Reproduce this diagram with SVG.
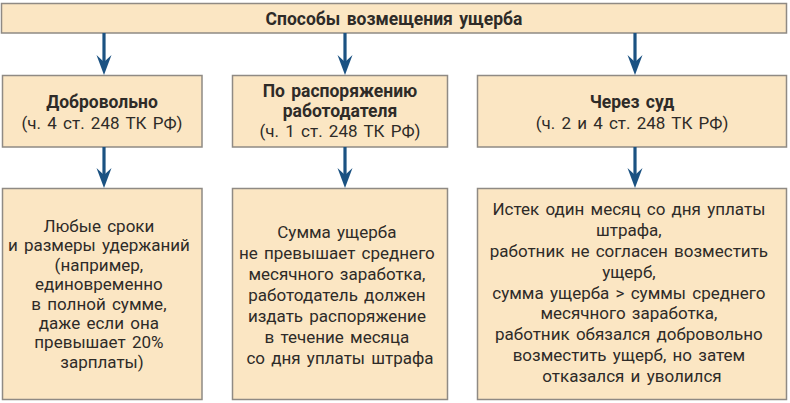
<svg xmlns="http://www.w3.org/2000/svg" width="790" height="403" viewBox="0 0 790 403">
<defs>
<style>
.box{fill:#fbe6c3;stroke:#8f8a84;stroke-width:1.5}
.t{font-family:Roboto,"Liberation Sans",sans-serif;fill:#2e2b28;text-anchor:middle}
.b{font-weight:bold;font-size:17.5px;word-spacing:2px}
.r{font-size:17px;word-spacing:2px}
.body{font-size:17px;word-spacing:2px}
.conn line{stroke:#1b5282;stroke-width:3.2}
.conn path{fill:#1b5282}
</style>
</defs>
<rect width="790" height="403" fill="#ffffff"/>
<g id="top">
<rect class="box" x="1.5" y="3.5" width="785" height="29.5"/>
<text class="t b" x="394" y="24.5">Способы возмещения ущерба</text>
</g>
<g id="n-dobr">
<rect class="box" x="2.5" y="75.5" width="199.5" height="71.5"/>
<text class="t b" x="102" y="108">Добровольно</text>
<text class="t r" x="102" y="129">(ч. 4 ст. 248 ТК РФ)</text>
</g>
<g id="n-rasp">
<rect class="box" x="232.5" y="75.5" width="215" height="71.5"/>
<text class="t b" x="340" y="97">По распоряжению</text>
<text class="t b" x="340" y="117">работодателя</text>
<text class="t r" x="340" y="137">(ч. 1 ст. 248 ТК РФ)</text>
</g>
<g id="n-sud">
<rect class="box" x="477.5" y="75.5" width="309" height="71.5"/>
<text class="t b" x="632" y="108">Через суд</text>
<text class="t r" x="632" y="129">(ч. 2 и 4 ст. 248 ТК РФ)</text>
</g>
<g id="d-dobr">
<rect class="box" x="2.5" y="188.5" width="199.5" height="211"/>
<text class="t body" x="102">
<tspan x="102" y="232">Любые сроки</tspan>
<tspan x="102" y="251.4">и размеры удержаний</tspan>
<tspan x="102" y="270.8">(например,</tspan>
<tspan x="102" y="290.2">единовременно</tspan>
<tspan x="102" y="309.6">в полной сумме,</tspan>
<tspan x="102" y="329">даже если она</tspan>
<tspan x="102" y="348.4">превышает 20%</tspan>
<tspan x="102" y="367.8">зарплаты)</tspan>
</text>
</g>
<g id="d-rasp">
<rect class="box" x="232.5" y="188.5" width="215" height="211"/>
<text class="t body" x="340">
<tspan x="340" y="238">Сумма ущерба</tspan>
<tspan x="340" y="259">не превышает среднего</tspan>
<tspan x="340" y="280">месячного заработка,</tspan>
<tspan x="340" y="301">работодатель должен</tspan>
<tspan x="340" y="322">издать распоряжение</tspan>
<tspan x="340" y="343">в течение месяца</tspan>
<tspan x="340" y="364">со дня уплаты штрафа</tspan>
</text>
</g>
<g id="d-sud">
<rect class="box" x="477.5" y="188.5" width="309" height="211"/>
<text class="t body" x="632">
<tspan x="632" y="215">Истек один месяц со дня уплаты</tspan>
<tspan x="632" y="236">штрафа,</tspan>
<tspan x="632" y="257">работник не согласен возместить</tspan>
<tspan x="632" y="278">ущерб,</tspan>
<tspan x="632" y="299">сумма ущерба &gt; суммы среднего</tspan>
<tspan x="632" y="319">месячного заработка,</tspan>
<tspan x="632" y="340">работник обязался добровольно</tspan>
<tspan x="632" y="361">возместить ущерб, но затем</tspan>
<tspan x="632" y="382">отказался и уволился</tspan>
</text>
</g>
<g id="connectors" class="conn">
<line x1="104" y1="33" x2="104" y2="62"/>
<path d="M96.5,55 L104,75 L111.5,55 L104,62 Z"/>
<line x1="345" y1="33" x2="345" y2="62"/>
<path d="M337.5,55 L345,75 L352.5,55 L345,62 Z"/>
<line x1="635" y1="33" x2="635" y2="62"/>
<path d="M627.5,55 L635,75 L642.5,55 L635,62 Z"/>
<line x1="104" y1="147" x2="104" y2="175"/>
<path d="M96.5,168 L104,188 L111.5,168 L104,175 Z"/>
<line x1="345" y1="147" x2="345" y2="175"/>
<path d="M337.5,168 L345,188 L352.5,168 L345,175 Z"/>
<line x1="635" y1="147" x2="635" y2="175"/>
<path d="M627.5,168 L635,188 L642.5,168 L635,175 Z"/>
</g>
</svg>
